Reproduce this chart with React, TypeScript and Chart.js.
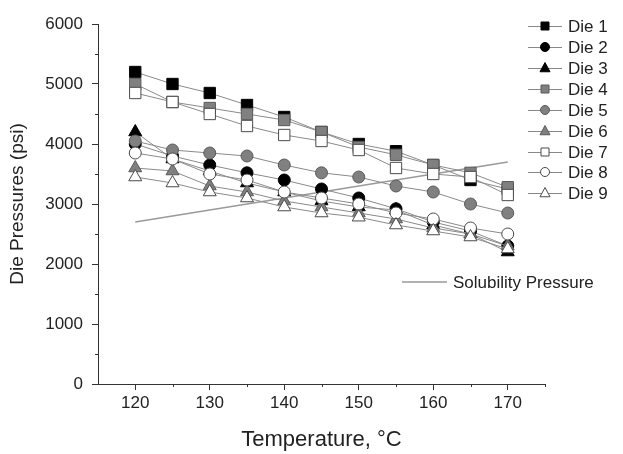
import React, { useEffect, useRef } from "react";
import { Chart, registerables } from "chart.js";
Chart.register(...registerables);

const FONT = "'Liberation Sans', Arial, Helvetica, sans-serif";

const temperatures = [120, 125, 130, 135, 140, 145, 150, 155, 160, 165, 170];
const die1 = [5200, 5000, 4850, 4650, 4450, 4200, 4000, 3880, 3650, 3400, 3250];
const die2 = [4000, 3800, 3650, 3520, 3400, 3250, 3100, 2920, 2700, 2550, 2300];
const die3 = [4200, 3750, 3550, 3350, 3200, 3050, 2950, 2900, 2650, 2500, 2200];
const die4 = [5000, 4700, 4600, 4500, 4400, 4200, 3950, 3820, 3650, 3520, 3280];
const die5 = [4050, 3900, 3850, 3800, 3650, 3520, 3450, 3300, 3200, 3000, 2850];
const die6 = [3600, 3550, 3300, 3200, 3050, 2950, 2850, 2750, 2600, 2500, 2300];
const die7 = [4850, 4700, 4500, 4300, 4150, 4050, 3900, 3600, 3500, 3450, 3150];
const die8 = [3850, 3750, 3500, 3400, 3200, 3100, 3000, 2850, 2750, 2600, 2500];
const die9 = [3450, 3350, 3200, 3100, 2950, 2850, 2780, 2650, 2550, 2450, 2250];
const solubilityTemps = [120, 170];
const solubilityValues = [2700, 3700];

const seriesNames = ["Die 1", "Die 2", "Die 3", "Die 4", "Die 5", "Die 6", "Die 7", "Die 8", "Die 9"];
const seriesValues = [die1, die2, die3, die4, die5, die6, die7, die8, die9];
const solubilityName = "Solubility Pressure";

const xTickLabels = [120, 130, 140, 150, 160, 170];
const xMinorTicks = [125, 135, 145, 155, 165, 175];
const yTickLabels = [0, 1000, 2000, 3000, 4000, 5000, 6000];
const yMinorTicks = [500, 1500, 2500, 3500, 4500, 5500];

const xTitle = "Temperature, °C";
const yTitle = "Die Pressures (psi)";

const shapes = ["rect", "circle", "triangle"];
const fills = ["#000000", "#000000", "#000000", "#808080", "#808080", "#808080", "#ffffff", "#ffffff", "#ffffff"];
const borders = ["#000000", "#000000", "#000000", "#5a5a5a", "#5a5a5a", "#5a5a5a", "#4a4a4a", "#4a4a4a", "#4a4a4a"];

function radiusFor(shape: string) {
  if (shape === "rect") return 8;
  if (shape === "triangle") return 7.5;
  return 6;
}

function drawMarker(ctx: CanvasRenderingContext2D, shape: string, x: number, y: number, size: number, fill: string, stroke: string) {
  ctx.save();
  ctx.fillStyle = fill;
  ctx.strokeStyle = stroke;
  ctx.lineWidth = 1;
  ctx.beginPath();
  if (shape === "rect") {
    ctx.rect(x - size, y - size, size * 2, size * 2);
  } else if (shape === "circle") {
    ctx.arc(x, y, size, 0, Math.PI * 2);
  } else {
    ctx.moveTo(x, y - size * 1.1);
    ctx.lineTo(x + size, y + size * 0.75);
    ctx.lineTo(x - size, y + size * 0.75);
    ctx.closePath();
  }
  ctx.fill();
  ctx.stroke();
  ctx.restore();
}

const legendRowsY = [26, 47, 68, 89, 110, 131, 152, 172, 193];

const customPlugin = {
  id: "customDecor",
  afterDraw(chart: any) {
    const ctx: CanvasRenderingContext2D = chart.ctx;
    const xs = chart.scales.x;
    const ys = chart.scales.y;
    ctx.save();
    // minor ticks
    ctx.strokeStyle = "#333";
    ctx.lineWidth = 1;
    for (const v of yMinorTicks) {
      const py = Math.round(ys.getPixelForValue(v)) + 0.5;
      ctx.beginPath();
      ctx.moveTo(xs.left - 3, py);
      ctx.lineTo(xs.left, py);
      ctx.stroke();
    }
    for (const v of xMinorTicks) {
      const px = Math.round(xs.getPixelForValue(v)) + 0.5;
      ctx.beginPath();
      ctx.moveTo(px, ys.bottom);
      ctx.lineTo(px, ys.bottom + 3);
      ctx.stroke();
    }
    // axis titles
    ctx.fillStyle = "#222";
    ctx.textAlign = "center";
    ctx.textBaseline = "middle";
    ctx.font = `22px ${FONT}`;
    ctx.fillText(xTitle, (xs.left + xs.right) / 2, 440);
    ctx.font = `19px ${FONT}`;
    ctx.save();
    ctx.translate(18, (ys.top + ys.bottom) / 2);
    ctx.rotate(-Math.PI / 2);
    ctx.fillText(yTitle, 0, 0);
    ctx.restore();
    // legend
    ctx.font = `17px ${FONT}`;
    ctx.textAlign = "left";
    ctx.textBaseline = "middle";
    seriesNames.forEach((name, i) => {
      const y = legendRowsY[i];
      ctx.strokeStyle = "#888";
      ctx.lineWidth = 1;
      ctx.beginPath();
      ctx.moveTo(528, y + 0.5);
      ctx.lineTo(562, y + 0.5);
      ctx.stroke();
      const shape = shapes[i % 3];
      const s = shape === "circle" ? 4.5 : shape === "rect" ? 4 : 5;
      drawMarker(ctx, shape, 545, y, s, fills[i], borders[i]);
      ctx.fillStyle = "#222";
      ctx.fillText(name, 568, y + 1);
    });
    // solubility legend
    ctx.strokeStyle = "#999";
    ctx.lineWidth = 1.5;
    ctx.beginPath();
    ctx.moveTo(402, 282);
    ctx.lineTo(447, 282);
    ctx.stroke();
    ctx.fillStyle = "#222";
    ctx.fillText(solubilityName, 453, 283);
    ctx.restore();
  },
};

export default function App() {
  const canvasRef = useRef<HTMLCanvasElement | null>(null);

  useEffect(() => {
    if (!canvasRef.current) return;
    const datasets: any[] = seriesNames.map((name, i) => {
      const shape = shapes[i % 3];
      return {
        label: name,
        data: temperatures.map((t, k) => ({ x: t, y: seriesValues[i][k] })),
        borderColor: "#8a8a8a",
        borderWidth: 1,
        pointStyle: shape,
        pointRadius: radiusFor(shape),
        pointBackgroundColor: fills[i],
        pointBorderColor: borders[i],
        pointBorderWidth: 1,
        fill: false,
        tension: 0,
        order: 20 - i,
      };
    });
    datasets.push({
      label: solubilityName,
      data: solubilityTemps.map((t, k) => ({ x: t, y: solubilityValues[k] })),
      borderColor: "#9a9a9a",
      borderWidth: 1.5,
      pointRadius: 0,
      fill: false,
      order: 100,
    });

    const chart = new Chart(canvasRef.current, {
      type: "line",
      data: { datasets },
      options: {
        animation: false,
        responsive: false,
        maintainAspectRatio: false,
        layout: { padding: { left: 0, right: 78, top: 24, bottom: 0 } },
        plugins: { legend: { display: false }, tooltip: { enabled: false } },
        scales: {
          x: {
            type: "linear",
            min: 115,
            max: 175,
            afterFit: (scale: any) => {
              scale.height = 70;
            },
            border: { display: true, color: "#333", width: 1 },
            grid: {
              drawOnChartArea: false,
              drawTicks: true,
              tickLength: 6,
              tickColor: (c: any) => (c.tick && xTickLabels.includes(c.tick.value) ? "#333" : "rgba(0,0,0,0)"),
            },
            ticks: {
              stepSize: 5,
              autoSkip: false,
              maxRotation: 0,
              padding: 3,
              color: "#222",
              font: { family: FONT, size: 17 },
              callback: (v: any) => (xTickLabels.includes(Number(v)) ? String(v) : ""),
            },
          },
          y: {
            type: "linear",
            min: 0,
            max: 6000,
            afterFit: (scale: any) => {
              scale.width = 98;
            },
            border: { display: true, color: "#333", width: 1 },
            grid: {
              drawOnChartArea: false,
              drawTicks: true,
              tickLength: 6,
              tickColor: (c: any) => (c.tick && yTickLabels.includes(c.tick.value) ? "#333" : "rgba(0,0,0,0)"),
            },
            ticks: {
              stepSize: 500,
              autoSkip: false,
              padding: 9,
              color: "#222",
              font: { family: FONT, size: 17 },
              callback: (v: any) => (yTickLabels.includes(Number(v)) ? String(v) : ""),
            },
          },
        },
      },
      plugins: [customPlugin],
    });
    return () => chart.destroy();
  }, []);

  return (
    <div style={{ position: "fixed", left: 0, top: 0, width: 623, height: 454, background: "#fff" }}>
      <canvas ref={canvasRef} width={623} height={454} style={{ width: 623, height: 454 }} />
    </div>
  );
}
